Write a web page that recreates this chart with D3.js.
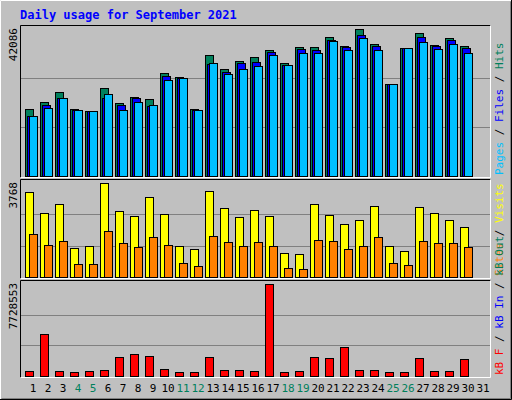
<!DOCTYPE html>
<html>
<head>
<meta charset="utf-8">
<script src="https://cdn.jsdelivr.net/npm/d3@7"></script>
<style>
  body { margin: 0; background: #fff; }
  svg text { font-family: "DejaVu Sans Mono", monospace; }
</style>
</head>
<body>
<script>
// Daily usage, September 2021
var days = d3.range(1, 32);
var weekend = [4, 5, 11, 12, 18, 19, 25, 26];

var hits = [19230, 21180, 23970, 19230, 18670, 25080, 20900, 22570, 22020, 29540,
            28430, 19230, 34560, 30660, 32890, 34000, 35950, 32330, 37070, 37070,
            39850, 37350, 42086, 37900, 26200, 36510, 40970, 37620, 39580, 37350];
var files = [17280, 20350, 22300, 18950, 18670, 22300, 20350, 22300, 20070, 28710,
             28150, 18950, 32050, 29820, 32330, 32610, 35390, 31770, 36230, 35950,
             39020, 36790, 40410, 37350, 26200, 36510, 39850, 37350, 39020, 36510];
var pages = [17280, 19510, 22300, 18950, 18670, 23410, 18950, 21180, 20350, 27590,
             28150, 18950, 32330, 29260, 30660, 31490, 34560, 31770, 35120, 35120,
             38740, 35950, 39580, 35950, 26200, 36510, 38460, 36230, 37900, 35120];
var visits = [3398, 2576, 2946, 1178, 1260, 3768, 2658, 2452, 3192, 2535,
              1260, 1137, 3439, 2754, 2411, 2699, 2452, 973, 932, 2946,
              2494, 2124, 2288, 2864, 1260, 1055, 2822, 2576, 2288, 2000];
var sites = [1713, 1302, 1425, 521, 521, 1836, 1343, 1219, 1589, 1302,
             562, 438, 1630, 1384, 1260, 1384, 1260, 356, 315, 1466,
             1425, 1137, 1260, 1589, 562, 480, 1425, 1343, 1343, 1219];
var kbytes = [453000, 3510000, 453000, 368000, 453000, 538000, 1557000, 1812000, 1642000, 623000,
              368000, 368000, 1557000, 538000, 538000, 453000, 7728553, 368000, 453000, 1557000,
              1472000, 2406000, 538000, 538000, 368000, 368000, 1472000, 453000, 453000, 1387000];

var W = 512, H = 400;
var svg = d3.select('body').append('svg').attr('width', W).attr('height', H);

svg.append('rect').attr('width', W).attr('height', H).attr('fill', '#c0c0c0');
// 3d frame
svg.append('path').attr('d', 'M0.5,399.5V0.5H511.5').attr('stroke', '#fff').attr('fill', 'none').attr('stroke-width', 1);
svg.append('path').attr('d', 'M1.5,398.5H510.5V1.5').attr('stroke', '#808080').attr('fill', 'none');
svg.append('path').attr('d', 'M0,399.5H511.5V0').attr('stroke', '#000').attr('fill', 'none');

svg.append('text').attr('x', 20).attr('y', 19).attr('fill', '#0000ff')
    .attr('font-size', 12).attr('font-weight', 'bold')
    .text('Daily usage for September 2021');

var x = d3.scaleBand().domain(days).range([25, 490]);

function panel(top, bottom, maxVal, series, labels) {
    svg.append('rect').attr('x', 20.5).attr('y', top + 0.5)
        .attr('width', 470).attr('height', bottom - top)
        .attr('fill', '#c0c0c0').attr('stroke', 'none');
    svg.append('path').attr('d', 'M20.5,' + (bottom + 0.5) + 'V' + (top + 0.5) + 'H490.5')
        .attr('stroke', '#000').attr('fill', 'none');
    svg.append('path').attr('d', 'M20.5,' + (bottom + 0.5) + 'H490.5V' + (top + 0.5))
        .attr('stroke', '#fff').attr('fill', 'none');

    var y = d3.scaleLinear().domain([0, maxVal]).range([bottom - 1, top + 4]);
    [1 / 3, 2 / 3].forEach(function(f) {
        var gy = Math.round(y(maxVal * f)) + 0.5;
        svg.append('line').attr('x1', 21).attr('x2', 490).attr('y1', gy).attr('y2', gy)
            .attr('stroke', '#808080');
    });

    series.forEach(function(s) {
        svg.append('g').selectAll('rect').data(s.values).enter().append('rect')
            .attr('x', function(d, i) { return x(days[i]) + s.off + 0.5; })
            .attr('y', function(d) { return Math.round(y(d)) + 0.5; })
            .attr('width', 8)
            .attr('height', function(d) { return Math.round(y(0)) - Math.round(y(d)); })
            .attr('fill', s.color).attr('stroke', '#000');
    });

    svg.append('text').attr('transform', 'translate(17,' + (top + 3) + ') rotate(-90)')
        .attr('text-anchor', 'end').attr('font-size', 11).attr('fill', '#000')
        .attr('font-family', 'DejaVu Sans').text(maxVal);

    var t = svg.append('text')
        .attr('transform', 'translate(503,' + (bottom - 2) + ') rotate(-90)')
        .attr('font-size', 11);
    labels.forEach(function(l, i) {
        if (i > 0) t.append('tspan').attr('fill', '#000').text(' / ');
        t.append('tspan').attr('fill', l.color).text(l.text);
    });
}

panel(25, 177, 42086, [
    { values: hits, color: '#00805c', off: 0 },
    { values: files, color: '#0000ff', off: 2 },
    { values: pages, color: '#00c0ff', off: 4 }
], [
    { text: 'Pages', color: '#00c0ff' },
    { text: 'Files', color: '#0000ff' },
    { text: 'Hits', color: '#00805c' }
]);

panel(179, 278, 3768, [
    { values: visits, color: '#ffff00', off: 0 },
    { values: sites, color: '#ff8000', off: 4 }
], [
    { text: 'Sites', color: '#ff8000' },
    { text: 'Visits', color: '#ffff00' }
]);

panel(280, 377, 7728553, [
    { values: kbytes, color: '#ff0000', off: 0 }
], [
    { text: 'kB F', color: '#ff0000' },
    { text: 'kB In', color: '#0000ff' },
    { text: 'kB Out', color: '#00805c' }
]);

svg.append('g').selectAll('text').data(days).enter().append('text')
    .attr('x', function(d) { return x(d) + 8; })
    .attr('y', 392)
    .attr('text-anchor', 'middle').attr('font-size', 11)
    .attr('font-family', 'DejaVu Sans')
    .attr('fill', function(d) { return weekend.indexOf(d) > -1 ? '#00805c' : '#000'; })
    .text(function(d) { return d; });
</script>
</body>
</html>
